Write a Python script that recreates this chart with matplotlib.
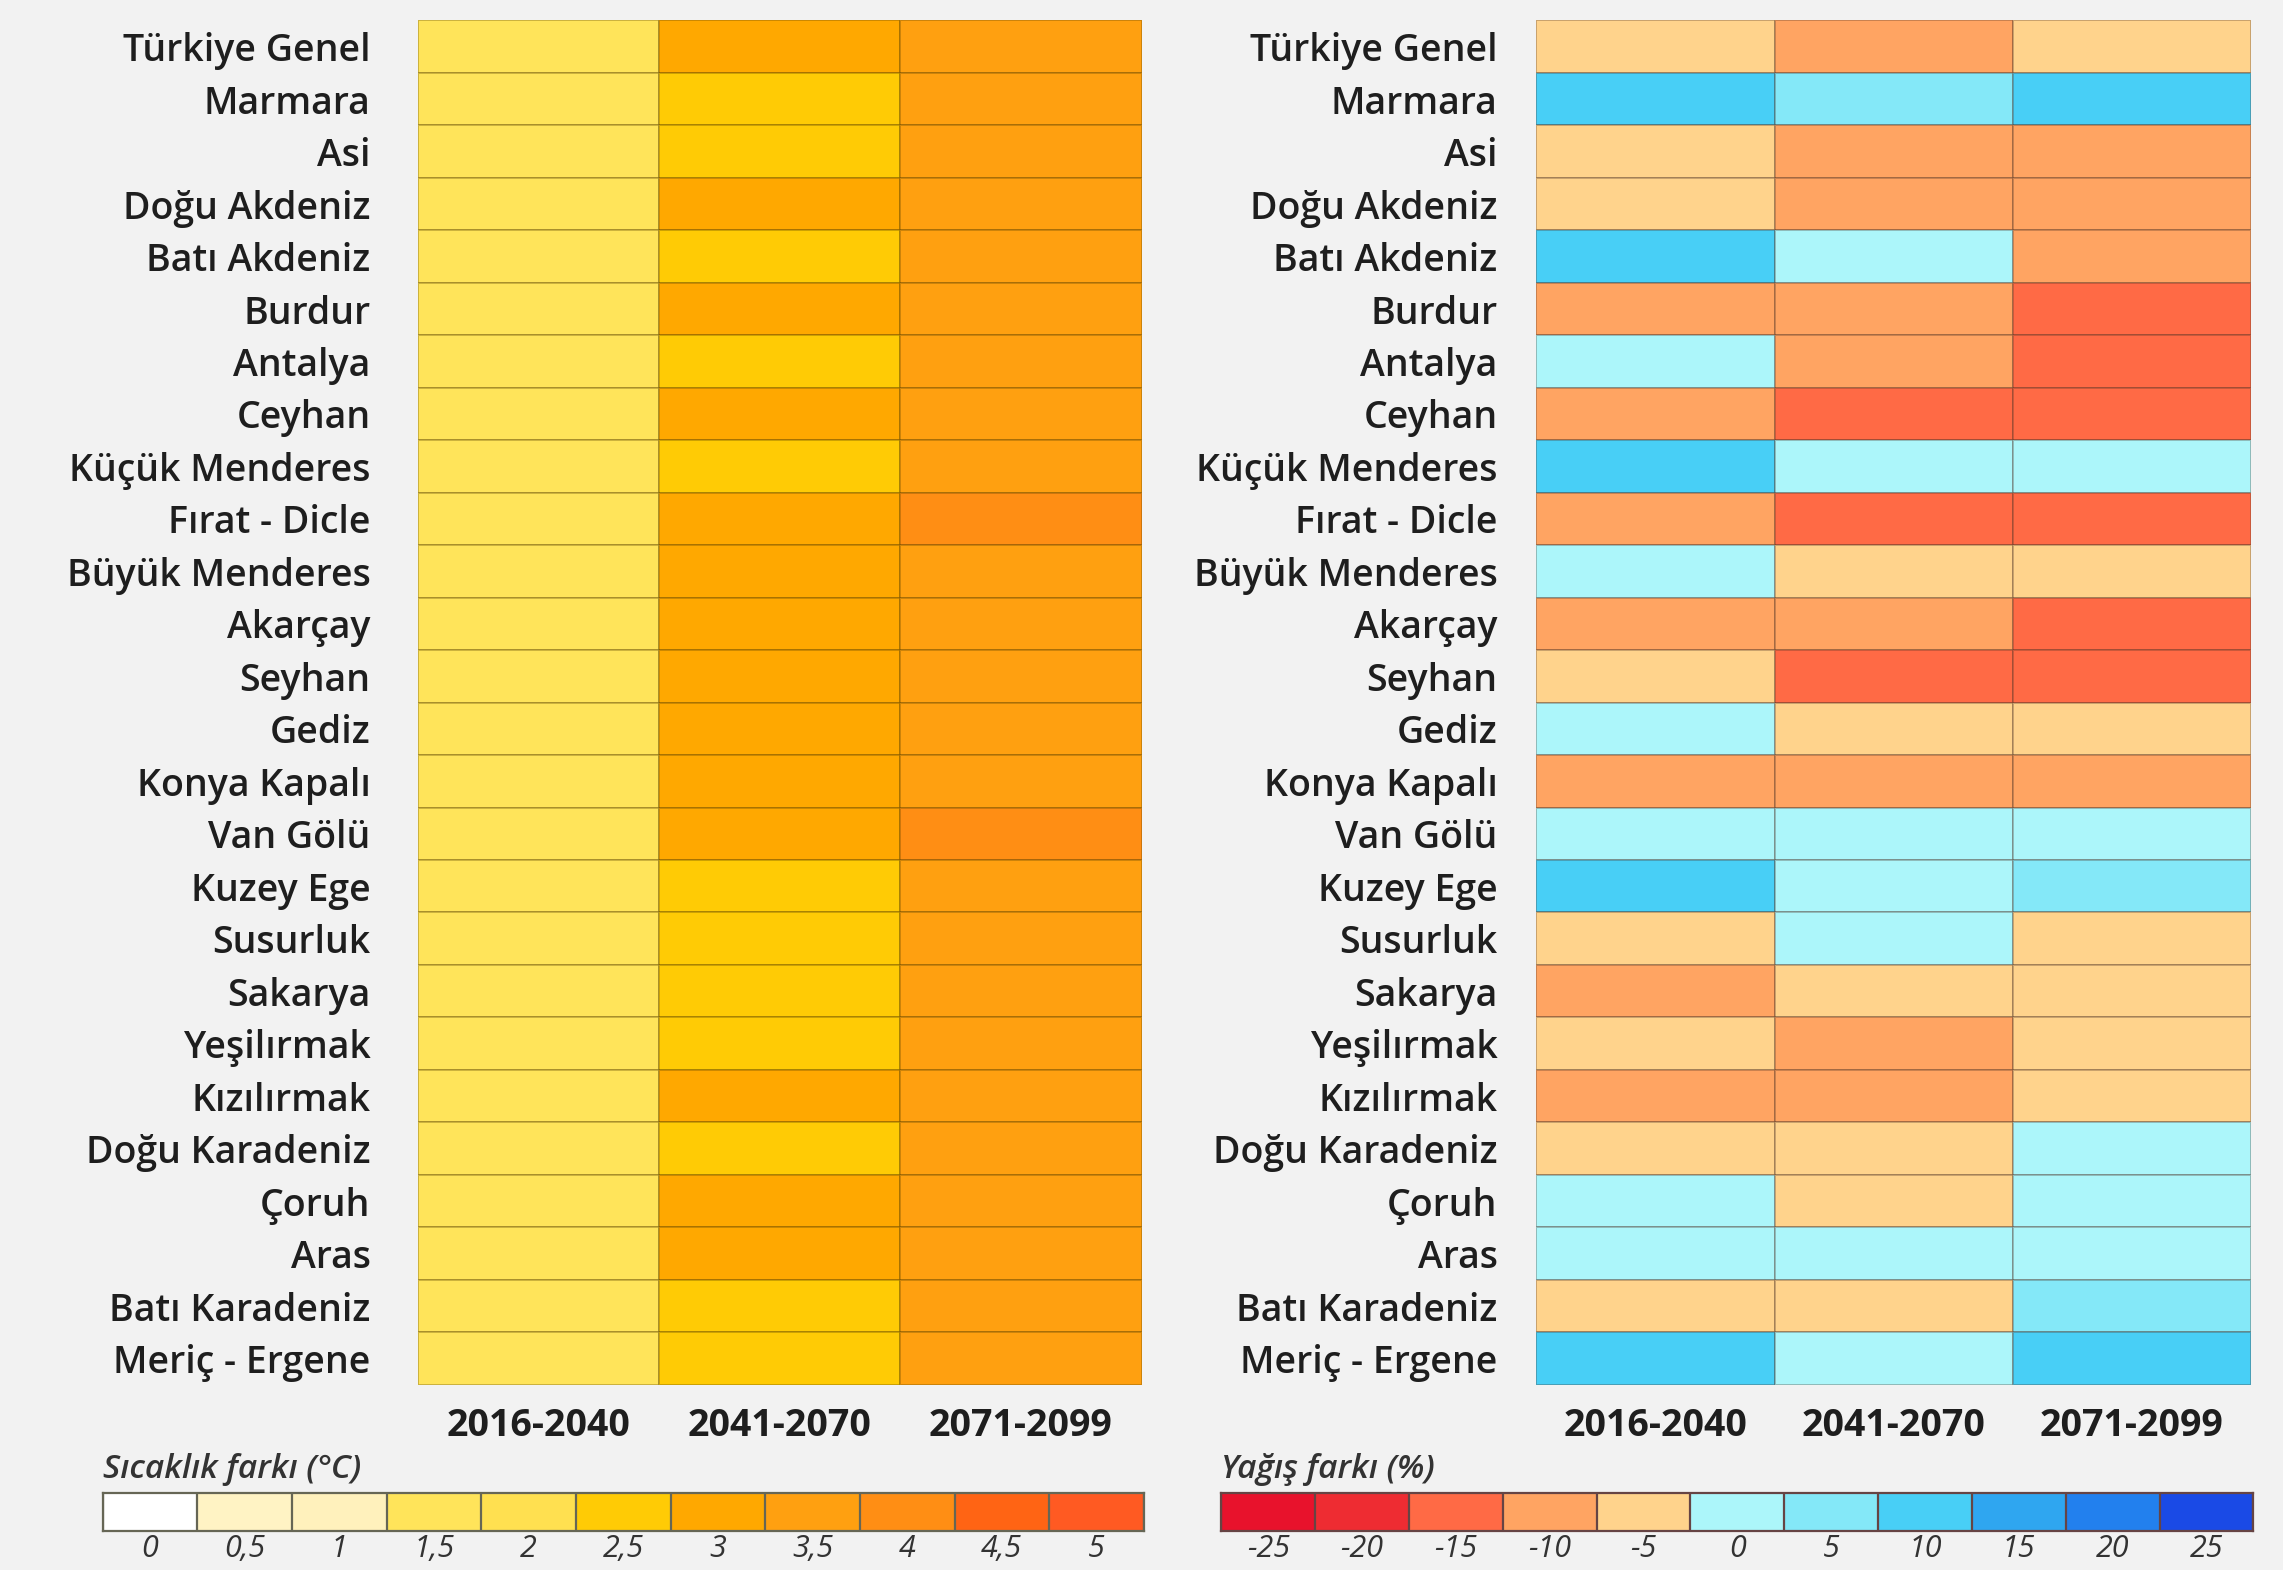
import matplotlib as mpl
import matplotlib.pyplot as plt
import numpy as np
from matplotlib.colors import ListedColormap, BoundaryNorm

mpl.rcParams.update({
    "font.family": ["Open Sans", "DejaVu Sans"],
    "axes.linewidth": 0,
})

BG = "#F2F2F2"
TXT = "#1E1E1E"

# ── Data ──────────────────────────────────────────────────
regions = ["Türkiye Genel", "Marmara", "Asi", "Doğu Akdeniz", "Batı Akdeniz",
           "Burdur", "Antalya", "Ceyhan", "Küçük Menderes", "Fırat - Dicle",
           "Büyük Menderes", "Akarçay", "Seyhan", "Gediz", "Konya Kapalı",
           "Van Gölü", "Kuzey Ege", "Susurluk", "Sakarya", "Yeşilırmak",
           "Kızılırmak", "Doğu Karadeniz", "Çoruh", "Aras", "Batı Karadeniz",
           "Meriç - Ergene"]
periods = ["2016-2040", "2041-2070", "2071-2099"]

# sıcaklık farkı (°C)
temp_p1 = [1.5] * 26
temp_p2 = [3, 2.5, 2.5, 3, 2.5, 3, 2.5, 3, 2.5, 3, 3, 3, 3, 3, 3, 3,
           2.5, 2.5, 2.5, 2.5, 3, 2.5, 3, 3, 2.5, 2.5]
temp_p3 = [3.5, 3.5, 3.5, 3.5, 3.5, 3.5, 3.5, 3.5, 3.5, 4, 3.5, 3.5, 3.5,
           3.5, 3.5, 4, 3.5, 3.5, 3.5, 3.5, 3.5, 3.5, 3.5, 3.5, 3.5, 3.5]

# yağış farkı (%)
rain_p1 = [-5, 10, -5, -5, 10, -10, 0, -10, 10, -10, 0, -10, -5, 0, -10, 0,
           10, -5, -10, -5, -10, -5, 0, 0, -5, 10]
rain_p2 = [-10, 5, -10, -10, 0, -10, -10, -15, 0, -15, -5, -10, -15, -5, -10, 0,
           0, 0, -5, -10, -10, -5, -5, 0, -5, 0]
rain_p3 = [-5, 10, -10, -10, -10, -15, -15, -15, 0, -15, -5, -15, -15, -5, -10, 0,
           5, -5, -5, -5, -5, 0, 0, 0, 5, 10]

temp_levels = [0, 0.5, 1, 1.5, 2, 2.5, 3, 3.5, 4, 4.5, 5]
temp_colors = ["#FFFFFF", "#FFF3C4", "#FFF1BC", "#FFE45A", "#FFE050", "#FFCB05",
               "#FFA800", "#FFA010", "#FF8E14", "#FF6414", "#FF5A22"]
rain_levels = [-25, -20, -15, -10, -5, 0, 5, 10, 15, 20, 25]
rain_colors = ["#E8122C", "#EE2C32", "#FF6A45", "#FFA462", "#FFD38C", "#ACF6FA",
               "#84E8F8", "#48CFF6", "#2FA6F0", "#2280EE", "#1A4AE6"]

# ── Figure ────────────────────────────────────────────────
fig = plt.figure(figsize=(22.83, 15.70), dpi=100, facecolor=BG)


def heatmap(rect, cols, levels, colors, label_pad, edge):
    ax = fig.add_axes(rect)
    data = np.array(cols).T
    step = levels[1] - levels[0]
    bounds = np.append(np.array(levels) - step / 2, levels[-1] + step / 2)
    cmap = ListedColormap(colors)
    norm = BoundaryNorm(bounds, cmap.N)
    ax.pcolormesh(data, cmap=cmap, norm=norm, edgecolors=edge, linewidth=1.4)
    ax.set_xlim(0, data.shape[1])
    ax.set_ylim(data.shape[0], 0)
    ax.set_yticks(np.arange(len(regions)) + 0.5)
    ax.set_yticklabels(regions, fontsize=27, fontweight="semibold", color=TXT)
    ax.set_xticks(np.arange(len(periods)) + 0.5)
    ax.set_xticklabels(periods, fontsize=27, fontweight="bold", color=TXT)
    ax.tick_params(length=0, axis="y", pad=label_pad)
    ax.tick_params(length=0, axis="x", pad=16)
    for s in ax.spines.values():
        s.set_visible(False)
    return ax


def legend_bar(rect, levels, colors, title, edge):
    cax = fig.add_axes(rect)
    cmap = ListedColormap(colors)
    cax.imshow(np.arange(len(levels))[None, :], cmap=cmap, aspect="auto",
               extent=(0, len(levels), 0, 1), vmin=-0.5, vmax=len(levels) - 0.5)
    for i in range(len(levels) + 1):
        cax.axvline(i, color=edge, linewidth=1.6)
    cax.set_xlim(0, len(levels))
    cax.set_xticks(np.arange(len(levels)) + 0.5)
    cax.set_xticklabels([f"{v:g}".replace(".", ",") for v in levels],
                        fontsize=22, style="italic", color="#333333")
    cax.set_yticks([])
    cax.tick_params(length=0, pad=2)
    for s in cax.spines.values():
        s.set_visible(True)
        s.set_color(edge)
        s.set_linewidth(1.6)
    cax.text(0, 1.2, title, transform=cax.transAxes, fontsize=24,
             style="italic", fontweight="semibold", color="#333333",
             ha="left", va="bottom")


heatmap([0.183, 0.118, 0.317, 0.869], [temp_p1, temp_p2, temp_p3],
        temp_levels, temp_colors, 34, (0.35, 0.25, 0.0, 0.3))
heatmap([0.673, 0.118, 0.313, 0.869], [rain_p1, rain_p2, rain_p3],
        rain_levels, rain_colors, 28, (0.3, 0.2, 0.15, 0.3))

legend_bar([0.045, 0.025, 0.456, 0.024], temp_levels, temp_colors,
           "Sıcaklık farkı (°C)", "#666655")
legend_bar([0.535, 0.025, 0.452, 0.024], rain_levels, rain_colors,
           "Yağış farkı (%)", "#664444")

fig.savefig("out.png", dpi=100, facecolor=BG)
